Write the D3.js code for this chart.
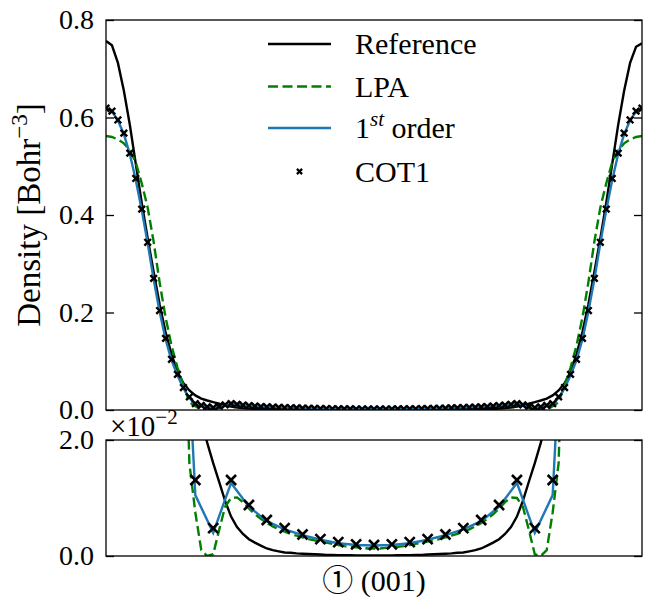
<!DOCTYPE html>
<html>
<head>
<meta charset="utf-8">
<script src="https://cdn.jsdelivr.net/npm/d3@7"></script>
<style>
  html, body { margin: 0; padding: 0; background: #fff; }
  svg text { font-family: "Liberation Serif", "Times New Roman", serif; fill: #000; }
</style>
</head>
<body>
<svg id="chart" width="647" height="600"></svg>
<script>
// ---------------- data ----------------
// sample index along the (001) line, 91 samples
const sampleIndex = d3.range(91);

const referenceDensity = [
  0.757,0.748,0.712,0.655,0.585,0.505,0.425,0.352,0.283,0.217,0.160,0.114,0.078,0.055,0.040,0.030,0.0235,0.0195,0.016,0.0128,0.0095,0.0068,0.0050,0.0038,0.0029,0.0023,0.0018,0.0013,0.0010,0.0008,0.0006,0.00055,0.00045,0.0004,0.00035,0.0003,0.00025,0.0002,0.0002,0.00015,0.00015,0.00012,0.0001,0.0001,0.0001,0.0001,
  0.0001,0.0001,0.0001,0.00012,0.00015,0.00015,0.0002,0.0002,0.00025,0.0003,0.00035,0.0004,0.00045,0.00055,0.0006,0.0008,0.0010,0.0013,0.0018,0.0023,0.0029,0.0038,0.0050,0.0068,0.0095,0.0128,0.016,0.0195,0.0235,0.030,0.040,0.055,0.078,0.114,0.160,0.217,0.283,0.352,0.425,0.505,0.585,0.655,0.712,0.745,0.752
];

const lpaDensity = [
  0.562,0.560,0.555,0.547,0.533,0.508,0.465,0.415,0.345,0.262,0.190,0.132,0.087,0.051,0.016,0.0075,0.001,0,0.0003,0.0045,0.0085,0.0100,0.0101,0.0093,0.0082,0.0072,0.0064,0.0057,0.0051,0.0046,0.0042,0.0038,0.0035,0.0032,0.0029,0.0027,0.0025,0.0023,0.0021,0.0019,0.0017,0.0016,0.0015,0.0014,0.0013,0.0013,
  0.0013,0.0014,0.0015,0.0016,0.0017,0.0019,0.0021,0.0023,0.0025,0.0027,0.0029,0.0032,0.0035,0.0038,0.0042,0.0046,0.0051,0.0057,0.0064,0.0072,0.0082,0.0093,0.0101,0.0100,0.0085,0.0045,0.0003,0,0.001,0.0075,0.016,0.051,0.087,0.132,0.190,0.262,0.345,0.415,0.465,0.508,0.533,0.547,0.555,0.560,0.562
];

const firstOrderDensity = [
  0.618,0.612,0.594,0.566,0.525,0.472,0.410,0.342,0.268,0.202,0.145,0.102,0.071,0.044,0.025,0.0105,0.0083,0.0062,0.0040,0.0069,0.0097,0.0126,0.0112,0.0098,0.0085,0.0076,0.0068,0.0060,0.0055,0.0050,0.0046,0.0042,0.0039,0.0036,0.0033,0.0031,0.0028,0.0026,0.0024,0.0022,0.0021,0.0020,0.0019,0.0018,0.0018,0.0018,
  0.0018,0.0018,0.0019,0.0020,0.0021,0.0022,0.0024,0.0026,0.0028,0.0031,0.0033,0.0036,0.0039,0.0042,0.0046,0.0050,0.0055,0.0060,0.0068,0.0076,0.0085,0.0098,0.0112,0.0126,0.0097,0.0069,0.0040,0.0062,0.0083,0.0105,0.025,0.044,0.071,0.102,0.145,0.202,0.268,0.342,0.410,0.472,0.525,0.566,0.594,0.612,0.618
];

const cot1Density = [
  0.619,0.613,0.595,0.568,0.527,0.475,0.412,0.344,0.270,0.204,0.147,0.104,0.073,0.046,0.027,0.0131,0.0095,0.0065,0.0048,0.0075,0.0105,0.0131,0.0115,0.0100,0.0088,0.0079,0.0070,0.0062,0.0057,0.0052,0.0048,0.0044,0.0041,0.0037,0.0035,0.0032,0.0029,0.0027,0.0025,0.0024,0.0022,0.0021,0.0020,0.0019,0.0019,0.0019,
  0.0019,0.0019,0.0020,0.0021,0.0022,0.0024,0.0025,0.0027,0.0029,0.0032,0.0035,0.0037,0.0041,0.0044,0.0048,0.0052,0.0057,0.0062,0.0070,0.0079,0.0088,0.0100,0.0115,0.0131,0.0105,0.0075,0.0048,0.0065,0.0095,0.0131,0.027,0.046,0.073,0.104,0.147,0.204,0.270,0.344,0.412,0.475,0.527,0.568,0.595,0.613,0.619
];

// the zoomed panel shows 1st order and COT1 on every third sample
const zoomStride = 3;

const topTicks = [0.0, 0.2, 0.4, 0.6, 0.8];
const bottomTicks = [0.0, 2.0];
const zoomFactor = 1e-2;

const seriesNames = ["Reference", "LPA", "1st order", "COT1"];

// ---------------- drawing ----------------
const svg = d3.select("#chart");
svg.append("rect").attr("width", 647).attr("height", 600).attr("fill", "#fff");

const left = 106, right = 642;
const top1 = 20, bot1 = 410;
const top2 = 440, bot2 = 556;
const FS_TICK = 28, FS_LEG = 30, FS_YLAB = 33, FS_XLAB = 30;

const x = d3.scaleLinear().domain([0, 90]).range([left, right]);
const yTop = d3.scaleLinear().domain([0, 0.8]).range([bot1, top1]);
const yBot = d3.scaleLinear().domain([0, 2.0]).range([bot2, top2]);

const defs = svg.append("defs");
defs.append("clipPath").attr("id", "clipTop").append("rect")
  .attr("x", left).attr("y", top1).attr("width", right - left).attr("height", bot1 - top1);
defs.append("clipPath").attr("id", "clipBot").append("rect")
  .attr("x", left).attr("y", top2).attr("width", right - left).attr("height", bot2 - top2);

const colors = { ref: "#000000", lpa: "#008000", first: "#1f77b4", cot: "#000000" };

function xMark(s) { return `M${-s},${-s}L${s},${s}M${-s},${s}L${s},${-s}`; }

function drawPanel(g, yScale, scale, clipId, stride, markSize, markWidth) {
  const gc = g.append("g").attr("clip-path", `url(#${clipId})`);
  const lineFull = d3.line().x((d, i) => x(sampleIndex[i])).y(d => yScale(d / scale));
  gc.append("path").datum(referenceDensity).attr("d", lineFull)
    .attr("fill", "none").attr("stroke", colors.ref).attr("stroke-width", 2.4);
  gc.append("path").datum(lpaDensity).attr("d", lineFull)
    .attr("fill", "none").attr("stroke", colors.lpa).attr("stroke-width", 2.4)
    .attr("stroke-dasharray", "10,4.5");
  const idx = sampleIndex.filter(i => i % stride === 0);
  const lineSub = d3.line().x(i => x(sampleIndex[i])).y(i => yScale(firstOrderDensity[i] / scale));
  gc.append("path").datum(idx).attr("d", lineSub)
    .attr("fill", "none").attr("stroke", colors.first).attr("stroke-width", 2.4);
  gc.selectAll("path.mk").data(idx).enter().append("path").attr("class", "mk")
    .attr("transform", i => `translate(${x(sampleIndex[i])},${yScale(cot1Density[i] / scale)})`)
    .attr("d", xMark(markSize))
    .attr("stroke", colors.cot).attr("stroke-width", markWidth).attr("fill", "none");
}

// top panel
const gTop = svg.append("g");
drawPanel(gTop, yTop, 1, "clipTop", 1, 3.3, 2.4);
// bottom panel
const gBot = svg.append("g");
drawPanel(gBot, yBot, zoomFactor, "clipBot", zoomStride, 5, 2.6);

// frames
[[top1, bot1], [top2, bot2]].forEach(([t, b]) => {
  svg.append("rect").attr("x", left).attr("y", t).attr("width", right - left).attr("height", b - t)
    .attr("fill", "none").attr("stroke", "#000").attr("stroke-width", 1.3);
});

// axis ticks (inward, both sides)
const tickLen = 8;
function yAxes(scale, ticks) {
  const gl = svg.append("g").attr("transform", `translate(${left},0)`)
    .call(d3.axisLeft(scale).tickValues(ticks).tickSize(-tickLen).tickPadding(12).tickFormat(d3.format(".1f")));
  const gr = svg.append("g").attr("transform", `translate(${right},0)`)
    .call(d3.axisRight(scale).tickValues(ticks).tickSize(-tickLen).tickFormat(""));
  [gl, gr].forEach(g => {
    g.select(".domain").remove();
    g.selectAll(".tick line").attr("stroke", "#000").attr("stroke-width", 1.3);
    g.selectAll(".tick text").attr("font-size", FS_TICK).attr("font-family", "Liberation Serif")
      .attr("fill", "#000");
  });
}
yAxes(yTop, topTicks);
yAxes(yBot, bottomTicks);

// offset exponent of the zoomed panel
const expo = svg.append("text").attr("x", 110).attr("y", 436).attr("font-size", 29);
expo.append("tspan").text("×10");
expo.append("tspan").attr("dy", -12).attr("font-size", 21).text("−2");

// y label
const yl = svg.append("text")
  .attr("transform", `translate(40,${(top1 + bot1) / 2}) rotate(-90)`)
  .attr("text-anchor", "middle").attr("font-size", FS_YLAB);
yl.append("tspan").text("Density [Bohr");
yl.append("tspan").attr("dy", -13).attr("font-size", FS_YLAB * 0.7).text("−3");
yl.append("tspan").attr("dy", 13).text("]");

// x label
const xl = svg.append("text").attr("x", (left + right) / 2).attr("y", 591)
  .attr("text-anchor", "middle").attr("font-size", FS_XLAB);
xl.append("tspan").attr("font-family", "Noto Sans CJK JP").attr("font-size", 31).text("①");
xl.append("tspan").text(" (001)");

// legend
const legX0 = 268, legX1 = 331, legTextX = 355;
const legRows = [44, 86.5, 128, 171.5];
const lg = svg.append("g");
lg.append("line").attr("x1", legX0).attr("x2", legX1).attr("y1", legRows[0]).attr("y2", legRows[0])
  .attr("stroke", colors.ref).attr("stroke-width", 2.4);
lg.append("line").attr("x1", legX0).attr("x2", legX1).attr("y1", legRows[1]).attr("y2", legRows[1])
  .attr("stroke", colors.lpa).attr("stroke-width", 2.4).attr("stroke-dasharray", "10,4.5");
lg.append("line").attr("x1", legX0).attr("x2", legX1).attr("y1", legRows[2]).attr("y2", legRows[2])
  .attr("stroke", colors.first).attr("stroke-width", 2.4);
lg.append("path").attr("transform", `translate(${(legX0 + legX1) / 2},${legRows[3]})`)
  .attr("d", xMark(2.6)).attr("stroke", colors.cot).attr("stroke-width", 2.2).attr("fill", "none");

lg.append("text").attr("x", legTextX).attr("y", legRows[0] + 10).attr("font-size", FS_LEG).text(seriesNames[0]);
lg.append("text").attr("x", legTextX).attr("y", legRows[1] + 10).attr("font-size", FS_LEG).text(seriesNames[1]);
const t3 = lg.append("text").attr("x", legTextX).attr("y", legRows[2] + 10).attr("font-size", FS_LEG);
t3.append("tspan").text("1");
t3.append("tspan").attr("dy", -12).attr("font-size", FS_LEG * 0.7).attr("font-style", "italic").text("st");
t3.append("tspan").attr("dy", 12).text(" order");
lg.append("text").attr("x", legTextX).attr("y", legRows[3] + 10).attr("font-size", FS_LEG).text(seriesNames[3]);
</script>
</body>
</html>
